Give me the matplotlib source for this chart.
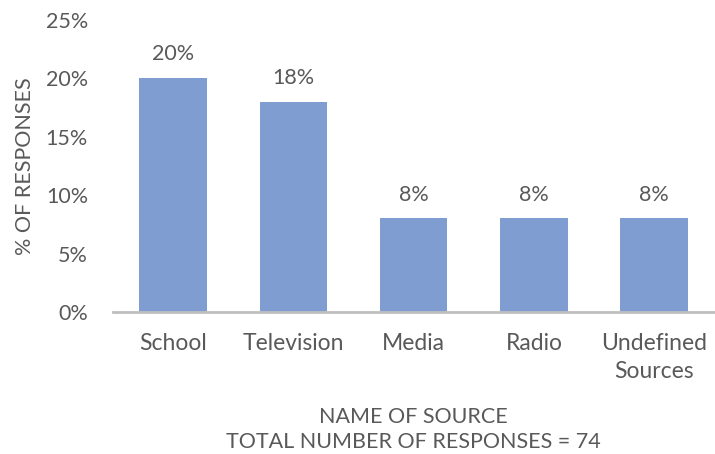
import matplotlib
matplotlib.use("Agg")
import matplotlib.pyplot as plt
from matplotlib.ticker import FuncFormatter

categories = ["School", "Television", "Media", "Radio", "Undefined\nSources"]
values = [20, 18, 8, 8, 8]
value_labels = ["20%", "18%", "8%", "8%", "8%"]
yticks = [0, 5, 10, 15, 20, 25]

plt.rcParams['font.family'] = ['Lato', 'DejaVu Sans']
text_color = "#595959"
fs = 15.5
fs_cat = 16.5

fig = plt.figure(figsize=(7.15, 4.54), dpi=100)
ax = fig.add_axes([0.158, 0.313, 0.841, 0.643])

x = list(range(len(categories)))
bars = ax.bar(x, values, width=0.56, color="#7F9DD1", zorder=2)
for xi, v, lab in zip(x, values, value_labels):
    ax.annotate(lab, (xi, v), xytext=(0, 10), textcoords="offset points",
                ha="center", va="bottom", fontsize=fs, color=text_color)

ax.set_xlim(-0.5, len(categories) - 0.5)
ax.set_ylim(0, 25)
ax.set_yticks(yticks)
ax.yaxis.set_major_formatter(FuncFormatter(lambda v, p: f"{int(v)}%"))
ax.set_xticks(x)
ax.set_xticklabels(categories, fontsize=fs_cat, color=text_color, linespacing=1.4)
for t in ax.get_yticklabels():
    t.set_fontsize(fs)
    t.set_color(text_color)
ax.tick_params(axis="both", length=0)
ax.tick_params(axis="x", pad=15)
ax.tick_params(axis="y", pad=18)

for s in ["top", "right", "left"]:
    ax.spines[s].set_visible(False)
ax.spines["bottom"].set_color("#BFBFBF")
ax.spines["bottom"].set_linewidth(2)
ax.spines["bottom"].set_zorder(3)

ax.set_ylabel("% OF RESPONSES", fontsize=fs, color=text_color, labelpad=8)
ax.set_xlabel("NAME OF SOURCE\nTOTAL NUMBER OF RESPONSES = 74", fontsize=fs,
              color=text_color, labelpad=18, linespacing=1.35)

fig.savefig("out.png", dpi=100)
